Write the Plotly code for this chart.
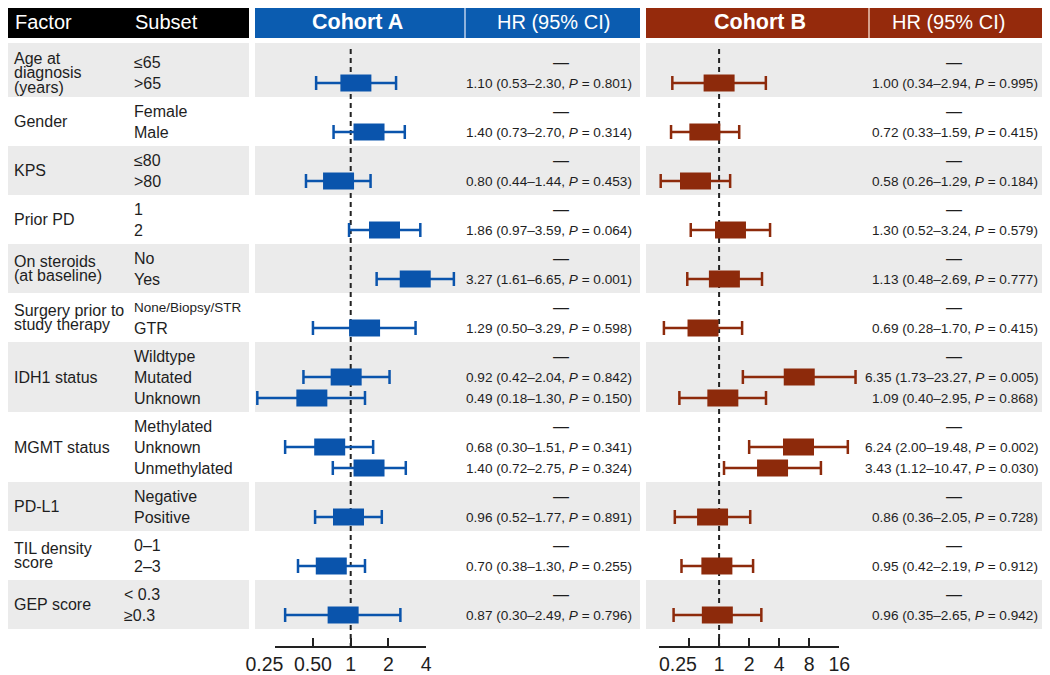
import math
import plotly.graph_objects as go

# ---- data -----------------------------------------------------------------
factors = ["Age at\ndiagnosis\n(years)", "Gender", "KPS", "Prior PD",
           "On steroids\n(at baseline)", "Surgery prior to\nstudy therapy",
           "IDH1 status", "MGMT status", "PD-L1", "TIL density\nscore", "GEP score"]
subsets = [["≤65", ">65"], ["Female", "Male"], ["≤80", ">80"], ["1", "2"],
           ["No", "Yes"], ["None/Biopsy/STR", "GTR"],
           ["Wildtype", "Mutated", "Unknown"],
           ["Methylated", "Unknown", "Unmethylated"],
           ["Negative", "Positive"], ["0–1", "2–3"], ["< 0.3", "≥0.3"]]

# one entry per subset row, None = reference level
hr_a = [None, 1.10, None, 1.40, None, 0.80, None, 1.86, None, 3.27, None, 1.29,
        None, 0.92, 0.49, None, 0.68, 1.40, None, 0.96, None, 0.70, None, 0.87]
lo_a = [None, 0.53, None, 0.73, None, 0.44, None, 0.97, None, 1.61, None, 0.50,
        None, 0.42, 0.18, None, 0.30, 0.72, None, 0.52, None, 0.38, None, 0.30]
hi_a = [None, 2.30, None, 2.70, None, 1.44, None, 3.59, None, 6.65, None, 3.29,
        None, 2.04, 1.30, None, 1.51, 2.75, None, 1.77, None, 1.30, None, 2.49]
p_a = [None, 0.801, None, 0.314, None, 0.453, None, 0.064, None, 0.001, None, 0.598,
       None, 0.842, 0.150, None, 0.341, 0.324, None, 0.891, None, 0.255, None, 0.796]

hr_b = [None, 1.00, None, 0.72, None, 0.58, None, 1.30, None, 1.13, None, 0.69,
        None, 6.35, 1.09, None, 6.24, 3.43, None, 0.86, None, 0.95, None, 0.96]
lo_b = [None, 0.34, None, 0.33, None, 0.26, None, 0.52, None, 0.48, None, 0.28,
        None, 1.73, 0.40, None, 2.00, 1.12, None, 0.36, None, 0.42, None, 0.35]
hi_b = [None, 2.94, None, 1.59, None, 1.29, None, 3.24, None, 2.69, None, 1.70,
        None, 23.27, 2.95, None, 19.48, 10.47, None, 2.05, None, 2.19, None, 2.65]
p_b = [None, 0.995, None, 0.415, None, 0.184, None, 0.579, None, 0.777, None, 0.415,
       None, 0.005, 0.868, None, 0.002, 0.030, None, 0.728, None, 0.912, None, 0.942]

ticks_a = [0.25, 0.5, 1, 2, 4]
ticklabels_a = ["0.25", "0.50", "1", "2", "4"]
ticks_b = [0.25, 0.5, 1, 2, 4, 8, 16]
ticklabels_b = ["0.25", "", "1", "2", "4", "8", "16"]

# ---- layout constants (pixels of the 1050x675 page) -----------------------
W, H = 1050, 675
OFF = 8                      # page body margin
FW, FH = W - OFF, H - OFF
ROW_PX = 21                  # px between rows in a group
Y0_PX = 62                   # px of the first row
GAP = 28 / 21                # step between last row of a group and the next one
LINE_PX = 14.5               # line spacing for wrapped factor labels
BOX_W, BOX_H = 31, 17
NBSP = "\u00a0"

BLUE, BLUE_HEAD = "#0a54ac", "#0b5cb0"
RED, RED_HEAD = "#8d2a0b", "#952a0c"
BAND = "#ebebeb"
TXT = "#1e1e1e"
FONT = "Liberation Sans, Arial, sans-serif"

A_ONE, A_OCT = 350.7, 37.75     # px of HR=1 and px per doubling, cohort A
B_ONE, B_OCT = 719.1, 30.05
A_L, A_R = 255, 465
B_L, B_R = 646, 869
AXIS_PX = 646.7


def yu(px):
    return (px - Y0_PX) / ROW_PX


def px_x(px):
    return (px - OFF) / FW


def px_y(px):
    return 1 - (px - OFF) / FH


def lrange(left_px, right_px, one, octv):
    l2 = math.log10(2)
    return [(left_px - one) / octv * l2, (right_px - one) / octv * l2]


# row positions
row_y, group_rows = [], []
pos = 0.0
for subs in subsets:
    rows = []
    for _ in subs:
        rows.append(pos)
        pos += 1
    pos += GAP - 1
    group_rows.append(rows)
    row_y.extend(rows)

fig = go.Figure()
shapes, annotations = [], []


def cell(x0, x1, color):
    shapes.append(dict(type="rect", xref="paper", yref="paper", x0=px_x(x0), x1=px_x(x1),
                       y0=px_y(38), y1=px_y(5), fillcolor=color, line_width=0, layer="below"))


# header cells
cell(5, 249, "black")
cell(A_L, 640, BLUE_HEAD)
cell(B_L, 1048, RED_HEAD)
for xd, c in [(A_R, "#8fb2dc"), (B_R, "#d6a08c")]:
    shapes.append(dict(type="line", xref="paper", yref="paper", x0=px_x(xd), x1=px_x(xd),
                       y0=px_y(38), y1=px_y(5), line=dict(color=c, width=2), layer="below"))

hdr = [("Factor", 13, "left", False), ("Subset", 133, "left", False),
       ("Cohort A", 357, "center", True), ("HR (95% CI)", 553, "center", False),
       ("Cohort B", 760, "center", True), ("HR (95% CI)", 948, "center", False)]
for t, x, anc, bold in hdr:
    annotations.append(dict(text=f"<b>{t}</b>" if bold else t, xref="paper", yref="paper",
                            x=px_x(x), y=px_y(22), xanchor=anc, yanchor="middle", showarrow=False,
                            font=dict(family=FONT, size=21.5 if bold else 20, color="white")))

# grey bands for alternating groups
for g, rows in enumerate(group_rows):
    if g % 2:
        continue
    top = yu(43) if g == 0 else rows[0] - GAP / 2
    bot = rows[-1] + GAP / 2
    for x0, x1 in [(5, 249), (A_L, 640), (B_L, 1048)]:
        shapes.append(dict(type="rect", xref="paper", yref="y", x0=px_x(x0), x1=px_x(x1),
                           y0=top, y1=bot, fillcolor=BAND, line_width=0, layer="below"))

# reference lines at HR = 1
for xr in ["x", "x2"]:
    shapes.append(dict(type="line", xref=xr, yref="y", x0=1, x1=1, y0=yu(49), y1=yu(AXIS_PX),
                       line=dict(color="#222", width=2, dash="5px,4px"), layer="below"))

# factor & subset labels
for g, rows in enumerate(group_rows):
    lines = factors[g].split("\n")
    mid = sum(rows) / len(rows)
    for k, ln in enumerate(lines):
        off = (k - (len(lines) - 1) / 2) * LINE_PX / ROW_PX
        annotations.append(dict(text=ln, xref="paper", yref="y", x=px_x(12), y=mid + off,
                                xanchor="left", yanchor="middle", showarrow=False,
                                font=dict(family=FONT, size=16, color=TXT)))
    for r, s in zip(rows, subsets[g]):
        annotations.append(dict(text=s, xref="paper", yref="y",
                                x=px_x(122 if s.endswith("0.3") else 132), y=r,
                                xanchor="left", yanchor="middle", showarrow=False,
                                font=dict(family=FONT, size=13.5 if len(s) > 12 else 16, color=TXT)))


def cohort(hr, lo, hi, pv, xref, color, octv, txt_right, dash_x):
    idx = [i for i, v in enumerate(hr) if v is not None]
    fig.add_trace(go.Scatter(
        x=[hr[i] for i in idx], y=[row_y[i] for i in idx], xaxis=xref, yaxis="y",
        mode="markers", marker=dict(size=1, opacity=0), hoverinfo="skip", showlegend=False,
        error_x=dict(type="data", symmetric=False,
                     array=[hi[i] - hr[i] for i in idx],
                     arrayminus=[hr[i] - lo[i] for i in idx],
                     color=color, thickness=2.5, width=7)))
    # boxes: fixed pixel width around the HR, drawn as thick line segments
    f = 2 ** (BOX_W / 2 / octv)
    bx, by = [], []
    for i in idx:
        bx += [hr[i] / f, hr[i] * f, None]
        by += [row_y[i], row_y[i], None]
    fig.add_trace(go.Scatter(x=bx, y=by, xaxis=xref, yaxis="y", mode="lines",
                             line=dict(color=color, width=BOX_H), hoverinfo="skip",
                             showlegend=False))
    for i, v in enumerate(hr):
        if v is None:
            annotations.append(dict(text="—", xref="paper", yref="y", x=px_x(dash_x), y=row_y[i],
                                    xanchor="center", yanchor="middle", showarrow=False,
                                    font=dict(family=FONT, size=16, color=TXT)))
        else:
            t = f"{v:.2f} ({lo[i]:.2f}–{hi[i]:.2f}, <i>P</i> = {pv[i]:.3f})"
            annotations.append(dict(text=t, xref="paper", yref="y", x=px_x(txt_right), y=row_y[i],
                                    xanchor="right", yanchor="middle", showarrow=False,
                                    font=dict(family=FONT, size=13.6, color=TXT)))


cohort(hr_a, lo_a, hi_a, p_a, "x", BLUE, A_OCT, 634, 561)
cohort(hr_b, lo_b, hi_b, p_b, "x2", RED, B_OCT, 1040, 954)

# invisible traces so the tick axes get drawn
fig.add_trace(go.Scatter(x=ticks_a, y=[None] * len(ticks_a), xaxis="x3", yaxis="y",
                         mode="markers", hoverinfo="skip", showlegend=False))
fig.add_trace(go.Scatter(x=ticks_b, y=[None] * len(ticks_b), xaxis="x4", yaxis="y",
                         mode="markers", hoverinfo="skip", showlegend=False))

tick_axis = dict(type="log", anchor="free", position=px_y(AXIS_PX), ticks="inside",
                 ticklen=8, tickwidth=1.5, tickcolor="#222", showline=True, linecolor="#222",
                 linewidth=1.5, showgrid=False, zeroline=False, tickangle=0, automargin=False,
                 tickfont=dict(family=FONT, size=19.5, color=TXT))

# first labels sit off-centre in the reference (A: pushed left, B: pushed right)
labels_a = [ticklabels_a[0] + NBSP * 4] + ticklabels_a[1:]
labels_b = [NBSP * 7 + ticklabels_b[0]] + ticklabels_b[1:]

fig.update_layout(
    template="none",
    width=FW, height=FH, margin=dict(l=0, r=0, t=0, b=0, pad=0),
    paper_bgcolor="white", plot_bgcolor="rgba(0,0,0,0)",
    xaxis=dict(domain=[px_x(A_L), px_x(A_R)], type="log", range=lrange(A_L, A_R, A_ONE, A_OCT),
               visible=False, anchor="y", automargin=False),
    xaxis2=dict(domain=[px_x(B_L), px_x(B_R)], type="log", range=lrange(B_L, B_R, B_ONE, B_OCT),
                visible=False, anchor="y", automargin=False),
    xaxis3=dict(domain=[px_x(A_ONE - 2 * A_OCT), px_x(A_ONE + 2 * A_OCT)],
                range=[math.log10(0.25), math.log10(4)],
                tickvals=ticks_a, ticktext=labels_a, **tick_axis),
    xaxis4=dict(domain=[px_x(B_ONE - 2 * B_OCT), px_x(B_ONE + 4 * B_OCT)],
                range=[math.log10(0.25), math.log10(16)],
                tickvals=ticks_b, ticktext=labels_b, **tick_axis),
    yaxis=dict(domain=[0, 1], range=[yu(H), yu(OFF)], visible=False, automargin=False),
    shapes=shapes, annotations=annotations,
)

fig.write_html("out.html")
